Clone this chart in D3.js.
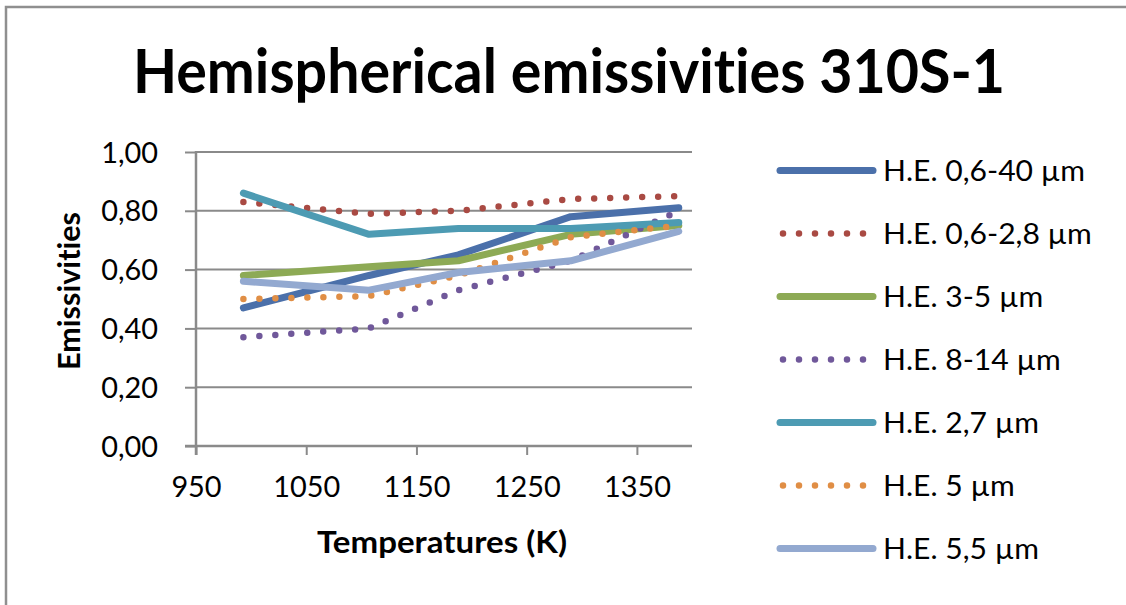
<!DOCTYPE html>
<html>
<head>
<meta charset="utf-8">
<title>Hemispherical emissivities 310S-1</title>
<script src="https://cdn.jsdelivr.net/npm/d3@7"></script>
<style>
  body { margin: 0; background: #fff; }
  text { font-family: Lato, "Open Sans", sans-serif; fill: #000; font-variant-ligatures: none; font-feature-settings: "liga" 0, "clig" 0; }
</style>
</head>
<body>
<script>
// values
var temperatures = [993, 1107, 1188, 1290, 1388];
var he_06_40 = [0.47, 0.58, 0.65, 0.78, 0.81];
var he_06_28 = [0.83, 0.79, 0.80, 0.84, 0.85];
var he_3_5   = [0.58, 0.61, 0.63, 0.72, 0.75];
var he_8_14  = [0.37, 0.40, 0.53, 0.63, 0.80];
var he_27    = [0.86, 0.72, 0.74, 0.74, 0.76];
var he_5     = [0.50, 0.51, 0.58, 0.71, 0.75];
var he_55    = [0.56, 0.53, 0.59, 0.63, 0.73];

var seriesNames = ["H.E. 0,6-40 µm", "H.E. 0,6-2,8 µm", "H.E. 3-5 µm", "H.E. 8-14 µm",
                   "H.E. 2,7 µm", "H.E. 5 µm", "H.E. 5,5 µm"];
var seriesValues = [he_06_40, he_06_28, he_3_5, he_8_14, he_27, he_5, he_55];
var seriesColors = ["#4B70AA", "#A94A43", "#8DAA55", "#70589A", "#4D9BB3", "#E08E45", "#93A9D0"];
var seriesDotted = [false, true, false, true, false, true, false];

var xTicks = [950, 1050, 1150, 1250, 1350];
var yTicks = [0, 0.2, 0.4, 0.6, 0.8, 1.0];

var width = 1126, height = 605;
var svg = d3.select("body").append("svg")
    .attr("width", width)
    .attr("height", height);

// chart frame (only top and left edges show in the picture)
svg.append("path")
    .attr("d", "M6,605 L6,7 L1126,7")
    .attr("fill", "none")
    .attr("stroke", "#8f8f8f")
    .attr("stroke-width", 2.5);

var x = d3.scaleLinear().domain([950, 1400]).range([196, 692]);
var y = d3.scaleLinear().domain([0, 1]).range([446, 152]);

// gridlines
svg.append("g").selectAll("line")
    .data(yTicks)
    .enter().append("line")
    .attr("x1", 196).attr("x2", 692)
    .attr("y1", function(d) { return y(d); })
    .attr("y2", function(d) { return y(d); })
    .attr("stroke", "#8a8a8a")
    .attr("stroke-width", 2);

// y axis
var yAxis = svg.append("g")
    .attr("transform", "translate(196,0)")
    .call(d3.axisLeft(y).tickValues(yTicks).tickSize(11).tickPadding(27)
      .tickFormat(function(d) { return d.toFixed(2).replace(".", ","); }));
yAxis.select(".domain").remove();
yAxis.selectAll(".tick line").attr("stroke", "#8a8a8a").attr("stroke-width", 2);
yAxis.selectAll("text").attr("font-size", 28).attr("font-family", "Lato")
    .attr("dy", "0.36em").attr("fill", "#111");
svg.append("line")
    .attr("x1", 196).attr("x2", 196)
    .attr("y1", y(1) - 1).attr("y2", y(0) + 9)
    .attr("stroke", "#8a8a8a").attr("stroke-width", 2.5);

// x axis
var xAxis = svg.append("g")
    .attr("transform", "translate(0,446)")
    .call(d3.axisBottom(x).tickValues(xTicks).tickSize(9).tickPadding(22)
      .tickFormat(function(d) { return d; }));
xAxis.select(".domain").remove();
xAxis.selectAll(".tick line").attr("stroke", "#8a8a8a").attr("stroke-width", 2);
xAxis.selectAll("text").attr("font-size", 28).attr("font-family", "Lato").attr("fill", "#111");
svg.append("line")
    .attr("x1", 185).attr("x2", 692)
    .attr("y1", y(0)).attr("y2", y(0))
    .attr("stroke", "#8a8a8a").attr("stroke-width", 2.5);

// squeeze tick labels to Calibri-like width
var refTick = xAxis.selectAll("text").filter(function(d) { return d === 1050; }).node();
var tickScale = 67 / refTick.getComputedTextLength();
svg.selectAll(".tick text").each(function() {
  var w = this.getComputedTextLength();
  d3.select(this).attr("textLength", w * tickScale).attr("lengthAdjust", "spacingAndGlyphs");
});

// series lines
var line = d3.line()
    .x(function(d, i) { return x(temperatures[i]); })
    .y(function(d) { return y(d); });

seriesValues.forEach(function(vals, k) {
  var p = svg.append("path")
      .datum(vals)
      .attr("d", line)
      .attr("fill", "none")
      .attr("stroke", seriesColors[k])
      .attr("stroke-linejoin", "round")
      .attr("stroke-linecap", "round");
  if (seriesDotted[k]) {
    p.attr("stroke-width", 6.5).attr("stroke-dasharray", "0,16");
  } else {
    p.attr("stroke-width", 7);
  }
});

// legend
var legend = svg.append("g");
var rows = legend.selectAll("g")
    .data(seriesNames)
    .enter().append("g")
    .attr("transform", function(d, i) { return "translate(0," + (170.5 + i * 63) + ")"; });

rows.append("line")
    .attr("x1", function(d, i) { return seriesDotted[i] ? 783 : 780; })
    .attr("x2", function(d, i) { return seriesDotted[i] ? 866 : 873; })
    .attr("y1", 0).attr("y2", 0)
    .attr("stroke", function(d, i) { return seriesColors[i]; })
    .attr("stroke-width", function(d, i) { return seriesDotted[i] ? 6.5 : 7; })
    .attr("stroke-dasharray", function(d, i) { return seriesDotted[i] ? "0,16" : null; })
    .attr("stroke-linecap", "round");

rows.append("text")
    .attr("x", 883)
    .attr("y", 10)
    .attr("font-size", 29)
    .attr("fill", "#111")
    .text(function(d) { return d; });

var legendScale = 202 / rows.select("text").node().getComputedTextLength();
rows.selectAll("text").each(function() {
  var w = this.getComputedTextLength();
  d3.select(this).attr("textLength", w * legendScale).attr("lengthAdjust", "spacingAndGlyphs");
});

// title
svg.append("text")
    .attr("x", 569)
    .attr("y", 93)
    .attr("text-anchor", "middle")
    .attr("font-size", 61)
    .attr("font-weight", "bold")
    .attr("textLength", 872)
    .attr("lengthAdjust", "spacingAndGlyphs")
    .text("Hemispherical emissivities 310S-1");

// axis titles
svg.append("text")
    .attr("transform", "translate(80,291) rotate(-90)")
    .attr("text-anchor", "middle")
    .attr("font-size", 30)
    .attr("font-weight", "bold")
    .attr("textLength", 158)
    .attr("lengthAdjust", "spacingAndGlyphs")
    .text("Emissivities");

svg.append("text")
    .attr("x", 442)
    .attr("y", 553)
    .attr("text-anchor", "middle")
    .attr("font-size", 31)
    .attr("font-weight", "bold")
    .attr("textLength", 250)
    .attr("lengthAdjust", "spacingAndGlyphs")
    .text("Temperatures (K)");
</script>
</body>
</html>
